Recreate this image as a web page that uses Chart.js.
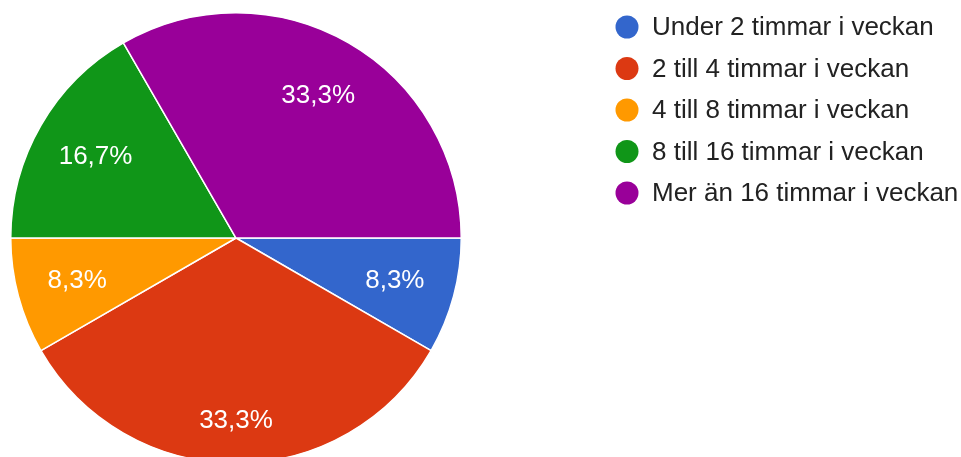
<!DOCTYPE html>
<html>
<head>
<meta charset="utf-8">
<title>Timmar i veckan</title>
<script src="https://cdn.jsdelivr.net/npm/chart.js@4/dist/chart.umd.min.js"></script>
<style>
  html, body { margin: 0; padding: 0; background: #fff; overflow: hidden; }
  canvas { display: block; }
</style>
</head>
<body>
<canvas id="pieChart" width="961" height="476"></canvas>
<script>
// svarsalternativ och antal svar
var categories = [
    'Under 2 timmar i veckan',
    '2 till 4 timmar i veckan',
    '4 till 8 timmar i veckan',
    '8 till 16 timmar i veckan',
    'Mer än 16 timmar i veckan'
];
var answers = [1, 4, 1, 2, 4];
var colors = ['#3366cc', '#dc3912', '#ff9900', '#109618', '#990099'];

// procentetiketter inne i tårtbitarna
var sliceLabels = {
    id: 'sliceLabels',
    afterDatasetsDraw: function (chart, args, opts) {
        var ctx = chart.ctx;
        var meta = chart.getDatasetMeta(0);
        var data = chart.data.datasets[0].data;
        var total = data.reduce(function (a, b) { return a + b; }, 0);
        ctx.save();
        ctx.font = '26px "Liberation Sans", Arial, sans-serif';
        ctx.fillStyle = '#ffffff';
        ctx.textAlign = 'center';
        ctx.textBaseline = 'middle';
        meta.data.forEach(function (arc, i) {
            var p = arc.getProps(['x', 'y', 'startAngle', 'endAngle', 'outerRadius'], true);
            var mid = (p.startAngle + p.endAngle) / 2;
            var r = p.outerRadius * (opts.radius[i] || 0.73);
            var txt = (data[i] / total * 100).toFixed(1).replace('.', ',') + '%';
            ctx.fillText(txt, p.x + Math.cos(mid) * r, p.y + Math.sin(mid) * r);
        });
        ctx.restore();
    }
};

// förklaring till höger med runda markeringar
var sideLegend = {
    id: 'sideLegend',
    afterDraw: function (chart, args, opts) {
        var ctx = chart.ctx;
        var labels = chart.data.labels;
        var bg = chart.data.datasets[0].backgroundColor;
        ctx.save();
        ctx.font = '26px "Liberation Sans", Arial, sans-serif';
        ctx.textBaseline = 'middle';
        ctx.textAlign = 'left';
        labels.forEach(function (label, i) {
            var y = opts.top + i * opts.step;
            ctx.beginPath();
            ctx.arc(opts.left, y, 11.5, 0, Math.PI * 2);
            ctx.fillStyle = bg[i];
            ctx.fill();
            ctx.fillStyle = '#222222';
            ctx.fillText(label, opts.left + 25, y + 1);
        });
        ctx.restore();
    }
};

var ctx = document.getElementById('pieChart');

if (ctx) {
    var pieChart = new Chart(ctx, {
        type: 'pie',
        data: {
            labels: categories,
            datasets: [{
                data: answers,
                backgroundColor: colors,
                borderColor: '#ffffff',
                borderWidth: 1.5
            }]
        },
        options: {
            responsive: false,
            animation: false,
            rotation: 90, // första biten börjar klockan tre
            layout: {
                padding: { left: 10, top: 12, right: 499, bottom: 12 }
            },
            plugins: {
                legend: { display: false },
                tooltip: { enabled: false },
                sliceLabels: { radius: [0.73, 0.81, 0.73, 0.72, 0.73] },
                sideLegend: { left: 627, top: 27, step: 41.5 }
            }
        },
        plugins: [sliceLabels, sideLegend]
    });
} else {
    console.error("Canvas element with ID 'pieChart' not found.");
}
</script>
</body>
</html>
